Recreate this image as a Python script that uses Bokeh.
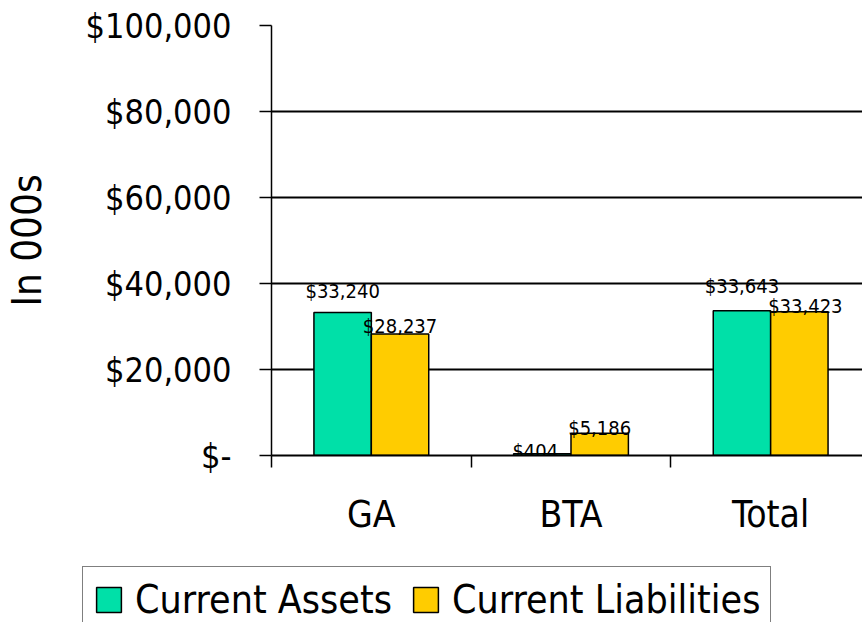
from bokeh.plotting import figure
from bokeh.layouts import column
from bokeh.models import Range1d, FixedTicker, Legend, LegendItem, ColumnDataSource
from bokeh.core.properties import value
from bokeh.embed import file_html
from bokeh.resources import INLINE

# ---- data ----
categories = ["GA", "BTA", "Total"]
current_assets = [33240, 404, 33643]
current_liabilities = [28237, 5186, 33423]
y_ticks = [0, 20000, 40000, 60000, 80000, 100000]
y_tick_labels = ["$-", "$20,000", "$40,000", "$60,000", "$80,000", "$100,000"]
series_names = ["Current Assets", "Current Liabilities"]

# ---- style ----
FONT = "DejaVu Sans Condensed"
GREEN = "#00E0A8"
YELLOW = "#FFCC00"
BAR_W = 0.2875
FRAME_LEFT = 270
# label nudges in pixels (dx, dy up) to mimic original placement
assets_dx = [0, -7, 0]
assets_dy = [22, 3, 25]
liab_dx = [0, 0, 6]
liab_dy = [8, 5, 6]


def money(v):
    return "${:,}".format(v)


idx = list(range(len(categories)))
centers = [i + 0.5 for i in idx]

src_a = ColumnDataSource(dict(
    x=[c - BAR_W / 2 for c in centers], top=current_assets,
    label=[money(v) for v in current_assets],
    dx=assets_dx, dy=[-d for d in assets_dy]))
src_l = ColumnDataSource(dict(
    x=[c + BAR_W / 2 for c in centers], top=current_liabilities,
    label=[money(v) for v in current_liabilities],
    dx=liab_dx, dy=[-d for d in liab_dy]))

p = figure(width=862, height=566, output_backend="svg", toolbar_location=None,
           x_range=Range1d(0, 2.96), y_range=Range1d(0, 100000),
           min_border_left=FRAME_LEFT, min_border_right=0, min_border_top=25,
           min_border_bottom=111)
p.frame_align = False
p.outline_line_color = None
p.background_fill_color = "white"
p.border_fill_color = "white"

bar_styles = [dict(fill_color=GREEN, line_color="black", line_width=1.5),
              dict(fill_color=YELLOW, line_color="black", line_width=1.5)]
sources = [src_a, src_l]

for s, st in zip(sources, bar_styles):
    p.vbar(x="x", top="top", bottom=0, width=BAR_W, source=s, **st)

for s in sources:
    p.text(x="x", y="top", text="label", x_offset="dx", y_offset="dy", source=s,
           text_font=value(FONT), text_font_size="20px", text_color="black",
           text_align="center", text_baseline="alphabetic")

# y axis
p.yaxis.ticker = FixedTicker(ticks=y_ticks)
p.yaxis.major_label_overrides = {t: l for t, l in zip(y_ticks, y_tick_labels)}
p.yaxis.major_label_text_font = FONT
p.yaxis.major_label_text_font_size = "34px"
p.yaxis.major_label_text_color = "black"
p.yaxis.major_tick_out = 12
p.yaxis.major_tick_in = 0
p.yaxis.major_tick_line_color = "black"
p.yaxis.major_tick_line_width = 1.5
p.yaxis.minor_tick_line_color = None
p.yaxis.axis_line_color = "black"
p.yaxis.axis_line_width = 1.5
p.yaxis.major_label_standoff = 28
p.yaxis.axis_label = "In 000s"
p.yaxis.axis_label_text_font = FONT
p.yaxis.axis_label_text_font_size = "40px"
p.yaxis.axis_label_text_font_style = "normal"
p.yaxis.axis_label_text_color = "black"
p.yaxis.axis_label_standoff = 33

# x axis
p.xaxis.ticker = FixedTicker(ticks=centers, minor_ticks=[0] + [i + 1 for i in idx])
p.xaxis.major_label_overrides = {c: n for c, n in zip(centers, categories)}
p.xaxis.major_label_text_font = FONT
p.xaxis.major_label_text_font_size = "37px"
p.xaxis.major_label_text_color = "black"
p.xaxis.major_tick_line_color = None
p.xaxis.major_tick_out = 0
p.xaxis.major_tick_in = 0
p.xaxis.minor_tick_out = 12
p.xaxis.minor_tick_in = 0
p.xaxis.minor_tick_line_color = "black"
p.xaxis.minor_tick_line_width = 1.5
p.xaxis.axis_line_color = "black"
p.xaxis.axis_line_width = 2
p.xaxis.major_label_standoff = 25

# grid
p.xgrid.grid_line_color = None
p.ygrid.ticker = FixedTicker(ticks=y_ticks)
p.ygrid.grid_line_color = "black"
p.ygrid.grid_line_width = 1.8

# ---- legend strip below the chart (own full-width frame) ----
lg = figure(width=862, height=56, output_backend="svg", toolbar_location=None,
            x_range=Range1d(-0.6, 3.6), y_range=Range1d(200000, 300000),
            min_border_left=0, min_border_right=0, min_border_top=0,
            min_border_bottom=0)
lg.frame_align = False
lg.axis.visible = False
lg.grid.visible = False
lg.outline_line_color = None
lg.border_fill_color = "white"
lg.background_fill_color = "white"
# same series, outside this strip's visible range (and behind the legend box),
# so the legend can sample their styles
keys = [lg.vbar(x="x", top="top", bottom=0, width=BAR_W, source=s, **st)
        for s, st in zip(sources, bar_styles)]

legend = Legend(items=[LegendItem(label=n, renderers=[r]) for n, r in zip(series_names, keys)],
                orientation="horizontal", location=(82, -11),
                label_text_font=FONT, label_text_font_size="39px",
                label_text_color="black",
                glyph_width=31, glyph_height=31, label_standoff=11,
                spacing=18, padding=10, margin=0,
                border_line_color="black", border_line_width=1.5,
                background_fill_color="white", background_fill_alpha=1)
lg.add_layout(legend, "center")

layout = column(p, lg, spacing=0)
open("out.html", "w").write(file_html(layout, INLINE))
